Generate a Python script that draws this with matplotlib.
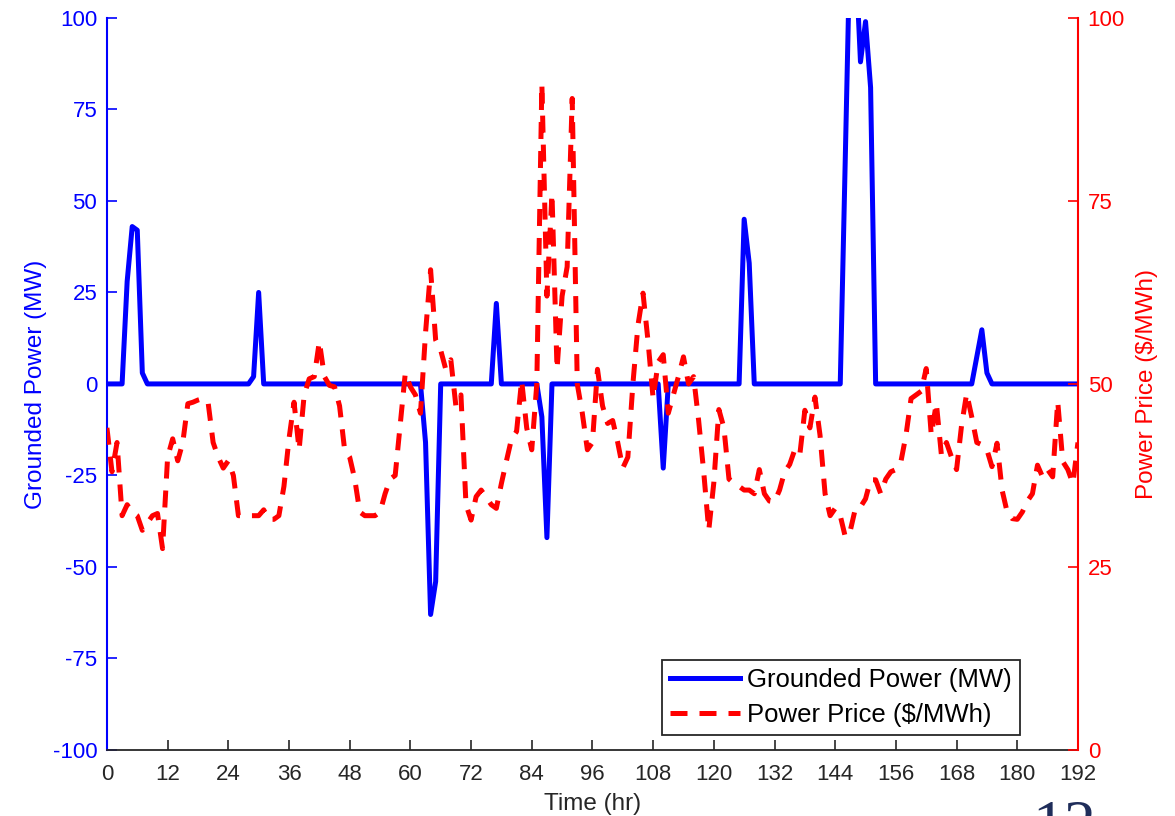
import matplotlib.pyplot as plt
from matplotlib.lines import Line2D

plt.rcParams['font.family'] = ['Liberation Sans', 'DejaVu Sans']
plt.rcParams['axes.unicode_minus'] = False

# grounded power (MW) at hourly vertices
power_hr = [0, 3, 4, 5, 6, 7, 8, 28, 29, 30, 31, 62, 63, 64, 65, 66, 76, 77, 78,
            85, 86, 87, 88, 109, 110, 111, 125, 126, 127, 128, 145, 146, 147, 148,
            149, 150, 151, 152, 171, 173, 174, 175, 192]
power_mw = [0, 0, 28, 43, 42, 3, 0, 0, 2, 25, 0, 0, -16, -63, -54, 0, 0, 22, 0,
            0, -9, -42, 0, 0, -23, 0, 0, 45, 33, 0, 0, 62, 125, 118,
            88, 99, 81, 0, 0, 14.8, 3, 0, 0]

# power price ($/MWh), hours 0..192
price = [44, 38, 42, 32, 33.5, 32.5, 32, 30, 31, 32, 32.3, 27.5, 40, 42.5, 39.5, 42,
         47.3, 47.5, 47.8, 48, 47.5, 42, 40, 38.5, 39.5, 37.5, 32, 32, 32, 32, 32,
         32.8, 31.5, 31.5, 32, 36, 42.5, 47.5, 41, 48.5, 50.7, 51, 55.8, 51, 49.8,
         49.6, 47, 41, 40, 37, 32.5, 32, 32, 32, 32.5, 35, 37, 37.5, 44.5, 51.5,
         49.6, 48.5, 46, 57, 65.6, 56, 54.6, 52, 53.3, 47, 48.5, 33.5, 31.4, 34.6,
         35.5, 34.5, 33.5, 33, 36.4, 39.5, 42.5, 43.5, 50.5, 44, 41, 50, 91, 62,
         76, 52, 62, 66, 89, 50, 46, 41, 42, 52, 47, 44.6, 45, 42, 38.5, 40, 50,
         58, 62.4, 55.8, 48, 53, 54, 46, 48.5, 51, 53.7, 50, 51, 45, 38, 30, 36.5,
         46.5, 44, 37, 36.4, 36, 35.5, 35.5, 35, 38.3, 35, 34, 33.9, 35.5, 38, 39,
         41, 40.3, 46.4, 44, 48.2, 43, 35, 32, 33, 32, 29.1, 30, 33, 33.2, 34.3,
         36.9, 36.9, 35, 37, 38, 38.3, 39.4, 43, 48, 48.5, 49, 52.1, 43, 47.4,
         40.3, 42, 40, 38.3, 44.4, 48.7, 45.5, 42, 41.7, 41, 38.7, 41.9, 35.5,
         32.5, 31.6, 31.5, 32.5, 34, 35, 38.9, 37.3, 38.3, 37.3, 47.6, 39.4, 38.3,
         36.4, 42]
price_hr = list(range(len(price)))

xticks = list(range(0, 193, 12))
left_ticks = [-100, -75, -50, -25, 0, 25, 50, 75, 100]
right_ticks = [0, 25, 50, 75, 100]

blue = '#0000FF'
red = '#FF0000'
dark = '#262626'

fig = plt.figure(figsize=(11.75, 8.16), dpi=100)
ax = fig.add_axes([0.091, 0.081, 0.8264, 0.897])
ax2 = ax.twinx()

ax.plot(power_hr, power_mw, color=blue, lw=3.6)
ax2.plot(price_hr, price, color=red, lw=3.6, dashes=(3.4, 2.4))

ax.set_xlim(0, 192)
ax.set_ylim(-100, 100)
ax2.set_ylim(0, 100)
ax.set_xticks(xticks)
ax.set_yticks(left_ticks)
ax2.set_yticks(right_ticks)

for a in (ax, ax2):
    a.spines['top'].set_visible(False)
    a.tick_params(direction='in', length=7, width=1.2, labelsize=16)
ax.spines['left'].set_color(blue)
ax.spines['left'].set_linewidth(1.5)
ax.spines['bottom'].set_color(dark)
ax.spines['bottom'].set_linewidth(1.3)
ax.spines['right'].set_visible(False)
ax2.spines['left'].set_visible(False)
ax2.spines['bottom'].set_visible(False)
ax2.spines['right'].set_color(red)
ax2.spines['right'].set_linewidth(1.5)
ax.tick_params(axis='y', colors=blue, pad=7)
ax.tick_params(axis='x', colors=dark, pad=10)
ax2.tick_params(axis='y', colors=red, pad=7)

ax.set_xlabel('Time (hr)', fontsize=17.5, color=dark, labelpad=6)
ax.set_ylabel('Grounded Power (MW)', fontsize=17.5, color=blue, labelpad=4)
ax2.set_ylabel('Power Price ($/MWh)', fontsize=17.5, color=red, labelpad=8)

handles = [Line2D([], [], color=blue, lw=3.6),
           Line2D([], [], color=red, lw=3.6, dashes=(3.4, 2.4))]
leg = ax2.legend(handles, ['Grounded Power (MW)', 'Power Price ($/MWh)'],
                 loc='lower right', bbox_to_anchor=(0.94, 0.0205), fontsize=18.5,
                 fancybox=False, framealpha=1, edgecolor=dark, handlelength=2.7,
                 borderpad=0.3, labelspacing=0.45, handletextpad=0.3,
                 borderaxespad=0)
leg.get_frame().set_linewidth(1.3)

fig.text(0.879, 0.019, '12', fontsize=46, color='#1F2D5A', va='top',
         family='Liberation Serif')

fig.savefig('out.png', dpi=100)
